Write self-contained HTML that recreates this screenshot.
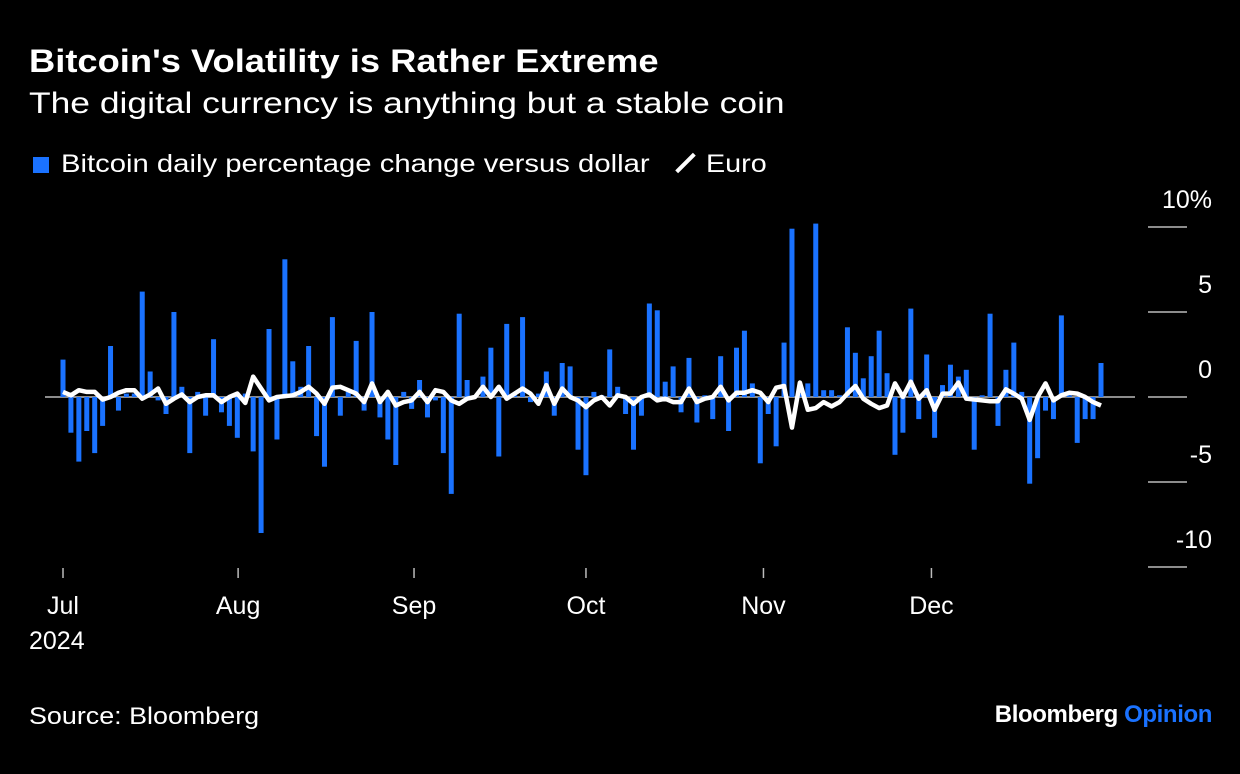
<!DOCTYPE html>
<html><head><meta charset="utf-8">
<style>
body{margin:0;background:#000;width:1240px;height:774px;overflow:hidden;font-family:"Liberation Sans",sans-serif;color:#fff}
.t{position:absolute;white-space:nowrap;transform-origin:0 50%}
</style></head>
<body>
<div class="t" style="left:29px;top:43px;font-size:32px;font-weight:bold;transform:scaleX(1.135)">Bitcoin's Volatility is Rather Extreme</div>
<div class="t" style="left:29px;top:87px;font-size:30px;transform:scaleX(1.18)">The digital currency is anything but a stable coin</div>
<div class="t" style="left:33px;top:150px;font-size:25px"><span style="display:inline-block;width:16px;height:16px;background:#1a72ff;margin-right:12px;vertical-align:-1px"></span><span style="display:inline-block;transform:scaleX(1.17);transform-origin:0 50%">Bitcoin daily percentage change versus dollar</span></div>
<div class="t" style="left:676px;top:150px;font-size:25px"><span style="display:inline-block;width:25px;height:4px;background:#fff;transform:rotate(-45deg);vertical-align:7px;margin-right:8px;margin-left:-3px"></span><span style="display:inline-block;transform:scaleX(1.15);transform-origin:0 50%">Euro</span></div>
<svg id="chart" width="1240" height="774" style="position:absolute;left:0;top:0"></svg>
<div class="t" style="left:29px;top:703px;font-size:24px;transform:scaleX(1.12)">Source: Bloomberg</div>
<div class="t" style="right:28px;top:701px;font-size:24px;font-weight:bold;letter-spacing:-0.4px">Bloomberg <span style="color:#1a72ff">Opinion</span></div>
<script>
const btc=[2.2,-2.1,-3.8,-2.0,-3.3,-1.7,3.0,-0.8,0.2,0.2,6.2,1.5,-0.2,-1.0,5.0,0.6,-3.3,0.3,-1.1,3.4,-0.9,-1.7,-2.4,0.2,-3.2,-8.0,4.0,-2.5,8.1,2.1,0.6,3.0,-2.3,-4.1,
4.7,-1.1,0.3,3.3,-0.8,5.0,-1.2,-2.5,-4.0,0.3,-0.7,1.0,-1.2,-0.2,-3.3,-5.7,4.9,1.0,0.1,1.2,2.9,-3.5,4.3,0.1,4.7,-0.3,0.2,1.5,-1.1,2.0,1.8,-3.1,-4.6,0.3,
0.1,2.8,0.6,-1.0,-3.1,-1.1,5.5,5.1,0.9,1.8,-0.9,2.3,-1.5,0.1,-1.3,2.4,-2.0,2.9,3.9,0.8,-3.9,-1.0,-2.9,3.2,9.9,0.2,0.8,10.2,0.4,0.4,0.1,4.1,2.6,1.1,
2.4,3.9,1.4,-3.4,-2.1,5.2,-1.3,2.5,-2.4,0.7,1.9,1.2,1.6,-3.1,0.1,4.9,-1.7,1.6,3.2,0.3,-5.1,-3.6,-0.8,-1.3,4.8,0.1,-2.7,-1.3,-1.3,2.0];
const eur=[0.3,0.1,0.4,0.3,0.3,-0.15,0,0.25,0.4,0.4,-0.1,0.15,0.5,-0.4,-0.1,0.15,-0.3,0,0.1,0.1,-0.3,0,0.2,-0.35,1.2,0.5,-0.2,0,0.05,0.1,0.3,0.6,0.2,-0.4,
0.55,0.6,0.4,0.2,-0.3,0.8,-0.3,0.3,-0.5,-0.3,-0.2,0.3,-0.3,0.4,0.3,-0.2,-0.4,-0.1,0,0.6,0,0.6,-0.1,0.2,0.5,0.2,-0.4,0.7,-0.4,0.5,0,-0.2,-0.6,-0.2,
0,-0.5,0.1,0,-0.4,0,0.15,-0.2,-0.1,-0.3,-0.3,0.5,-0.3,-0.1,0,0.6,-0.2,0.25,0.25,0.4,0.25,-0.3,0.55,0.65,-1.8,0.85,-0.75,-0.65,-0.3,-0.55,-0.3,0.2,0.65,-0.1,
-0.4,-0.65,-0.5,0.8,0,0.9,-0.1,0.4,-0.75,0.2,0.2,0.85,-0.1,-0.15,-0.2,-0.25,-0.25,0.45,0.2,-0.1,-1.35,0,0.8,-0.2,0.1,0.25,0.2,0,-0.3,-0.5];
const monthLabels=["Jul","Aug","Sep","Oct","Nov","Dec"];
const monthIdx=[0,22.1,44.3,66,88.4,109.6];
const yTicks=[10,5,0,-5,-10];
const yTickLabels=["10%","5","0","-5","-10"];
const svg=document.getElementById('chart');const NS='http://www.w3.org/2000/svg';
const x0=63,x1=1101;
function xs(i){return x0+(x1-x0)*i/(btc.length-1);}
function ys(v){return 397-v*17;}
function mk(t,a){const e=document.createElementNS(NS,t);for(const k in a)e.setAttribute(k,a[k]);svg.appendChild(e);return e;}
const zl=mk('line',{x1:45,x2:1135,y1:ys(0),y2:ys(0),stroke:'#bbb','stroke-width':1.5});


btc.forEach((v,i)=>{const r=mk('rect',{x:xs(i)-2.5,width:5,y:Math.min(ys(v),ys(0)),height:Math.abs(ys(v)-ys(0)),fill:'#1a72ff'});

});
const p=mk('polyline',{points:eur.map((v,i)=>xs(i)+','+ys(v)).join(' '),fill:'none',stroke:'#fff','stroke-width':4.5,'stroke-linejoin':'round'});


yTicks.forEach((v,i)=>{const l=mk('line',{x1:1148,x2:1187,y1:ys(v),y2:ys(v),stroke:'#bbb','stroke-width':1.5});


const t=mk('text',{x:1212,y:ys(v)-19,'text-anchor':'end',fill:'#fff','font-size':25,'font-family':'Liberation Sans'});t.textContent=yTickLabels[i];

});
monthLabels.forEach((m,i)=>{const x=xs(monthIdx[i]);
const l=mk('line',{x1:x,x2:x,y1:568,y2:578,stroke:'#bbb','stroke-width':1.5});


const t=mk('text',{x:x,y:614,'text-anchor':'middle',fill:'#fff','font-size':25,'font-family':'Liberation Sans'});t.textContent=m;

});
const yr=mk('text',{x:29,y:649,fill:'#fff','font-size':25,'font-family':'Liberation Sans'});yr.textContent='2024';


</script>
</body></html>
